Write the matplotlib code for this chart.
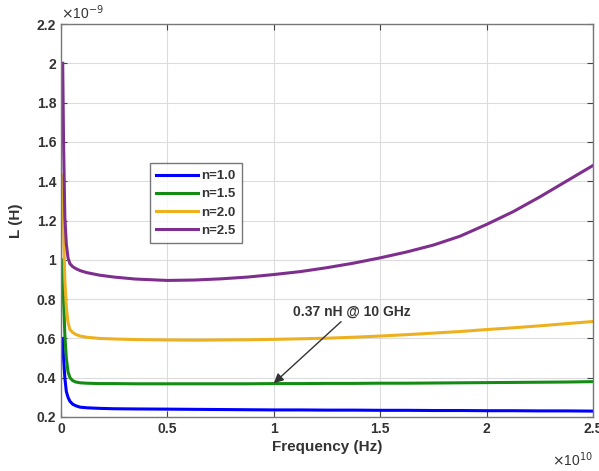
import numpy as np
import matplotlib
matplotlib.use("Agg")
import matplotlib.pyplot as plt

plt.rcParams['font.family'] = ['Liberation Sans', 'DejaVu Sans']

# frequency in units of 1e10 Hz, inductance in units of 1e-9 H
freq = [0.008, 0.012, 0.018, 0.025, 0.033, 0.042, 0.055, 0.07, 0.09, 0.12, 0.18, 0.25,
        0.35, 0.5, 0.625, 0.75, 0.875, 1.0, 1.125, 1.25, 1.375, 1.5, 1.625, 1.75, 1.875,
        2.0, 2.125, 2.25, 2.375, 2.5]

L_n10 = [0.60, 0.50, 0.40, 0.33, 0.30, 0.28, 0.265, 0.257, 0.25, 0.247, 0.244, 0.242,
         0.241, 0.240, 0.239, 0.238, 0.237, 0.236, 0.236, 0.235, 0.235, 0.234, 0.234,
         0.233, 0.233, 0.232, 0.232, 0.231, 0.231, 0.230]
L_n15 = [1.00, 0.80, 0.62, 0.50, 0.43, 0.40, 0.385, 0.378, 0.374, 0.372, 0.370, 0.370,
         0.369, 0.369, 0.369, 0.369, 0.369, 0.370, 0.370, 0.371, 0.371, 0.372, 0.372,
         0.373, 0.374, 0.375, 0.376, 0.377, 0.378, 0.380]
L_n20 = [1.43, 1.15, 0.90, 0.76, 0.68, 0.645, 0.63, 0.62, 0.612, 0.606, 0.60, 0.597,
         0.594, 0.592, 0.591, 0.592, 0.593, 0.595, 0.598, 0.601, 0.606, 0.612, 0.619,
         0.627, 0.635, 0.645, 0.654, 0.664, 0.675, 0.686]
L_n25 = [2.00, 1.60, 1.22, 1.08, 1.01, 0.98, 0.965, 0.955, 0.945, 0.935, 0.922, 0.912,
         0.902, 0.895, 0.897, 0.903, 0.912, 0.925, 0.940, 0.960, 0.983, 1.010, 1.040,
         1.075, 1.120, 1.180, 1.245, 1.320, 1.400, 1.480]

series = [("n=1.0", L_n10, "#0000ff"),
          ("n=1.5", L_n15, "#148c14"),
          ("n=2.0", L_n20, "#edb120"),
          ("n=2.5", L_n25, "#7e2f8e")]

xticks = [0, 0.5, 1, 1.5, 2, 2.5]
yticks = [0.2, 0.4, 0.6, 0.8, 1, 1.2, 1.4, 1.6, 1.8, 2, 2.2]

fig = plt.figure(figsize=(5.99, 4.71), dpi=100)
ax = fig.add_axes([61 / 599, 1 - 417 / 471, 532 / 599, 393 / 471])

for name, vals, col in series:
    ax.plot(freq, vals, color=col, lw=2.2, label=name)

ax.set_xlim(0, 2.5)
ax.set_ylim(0.2, 2.2)
ax.set_xticks(xticks)
ax.set_xticklabels([f"{t:g}" for t in xticks])
ax.set_yticks(yticks)
ax.set_yticklabels([f"{t:g}" for t in yticks])
ax.grid(True, color="#dcdcdc", lw=0.8)
ax.tick_params(direction="in", top=True, right=True, length=4, color="#444444",
               labelsize=10, labelcolor="#333333")
for lab in ax.get_xticklabels() + ax.get_yticklabels():
    lab.set_fontweight("bold")
for s in ax.spines.values():
    s.set_color("#777777")
    s.set_linewidth(1.0)

ax.set_xlabel("Frequency (Hz)", fontsize=11, fontweight="bold", color="#333333", labelpad=3)
ax.set_ylabel("L (H)", fontsize=11, fontweight="bold", color="#333333", labelpad=10)

ax.text(0.0, 1.005, r"$\times$10$^{-9}$", transform=ax.transAxes, fontsize=10,
        color="#333333", ha="left", va="bottom")
ax.text(1.0, -0.085, r"$\times$10$^{10}$", transform=ax.transAxes, fontsize=10,
        color="#333333", ha="right", va="top")

leg = ax.legend(loc="upper left", bbox_to_anchor=(0.154, 0.662), fontsize=9.5,
                frameon=True, fancybox=False, edgecolor="#555555", handlelength=3.2,
                handletextpad=0.2, borderpad=0.5, labelspacing=0.45)
leg.get_frame().set_linewidth(1.0)
for t in leg.get_texts():
    t.set_fontweight("bold")
    t.set_color("#333333")

ax.annotate("0.37 nH @ 10 GHz", xy=(1.0, 0.372), xytext=(1.09, 0.735),
            fontsize=10, fontweight="bold", color="#333333", va="center", ha="left",
            arrowprops=dict(arrowstyle="-|>", color="#333333", lw=1.0,
                            shrinkA=0, shrinkB=0, mutation_scale=14),
            )

fig.savefig("out.png", dpi=100)
